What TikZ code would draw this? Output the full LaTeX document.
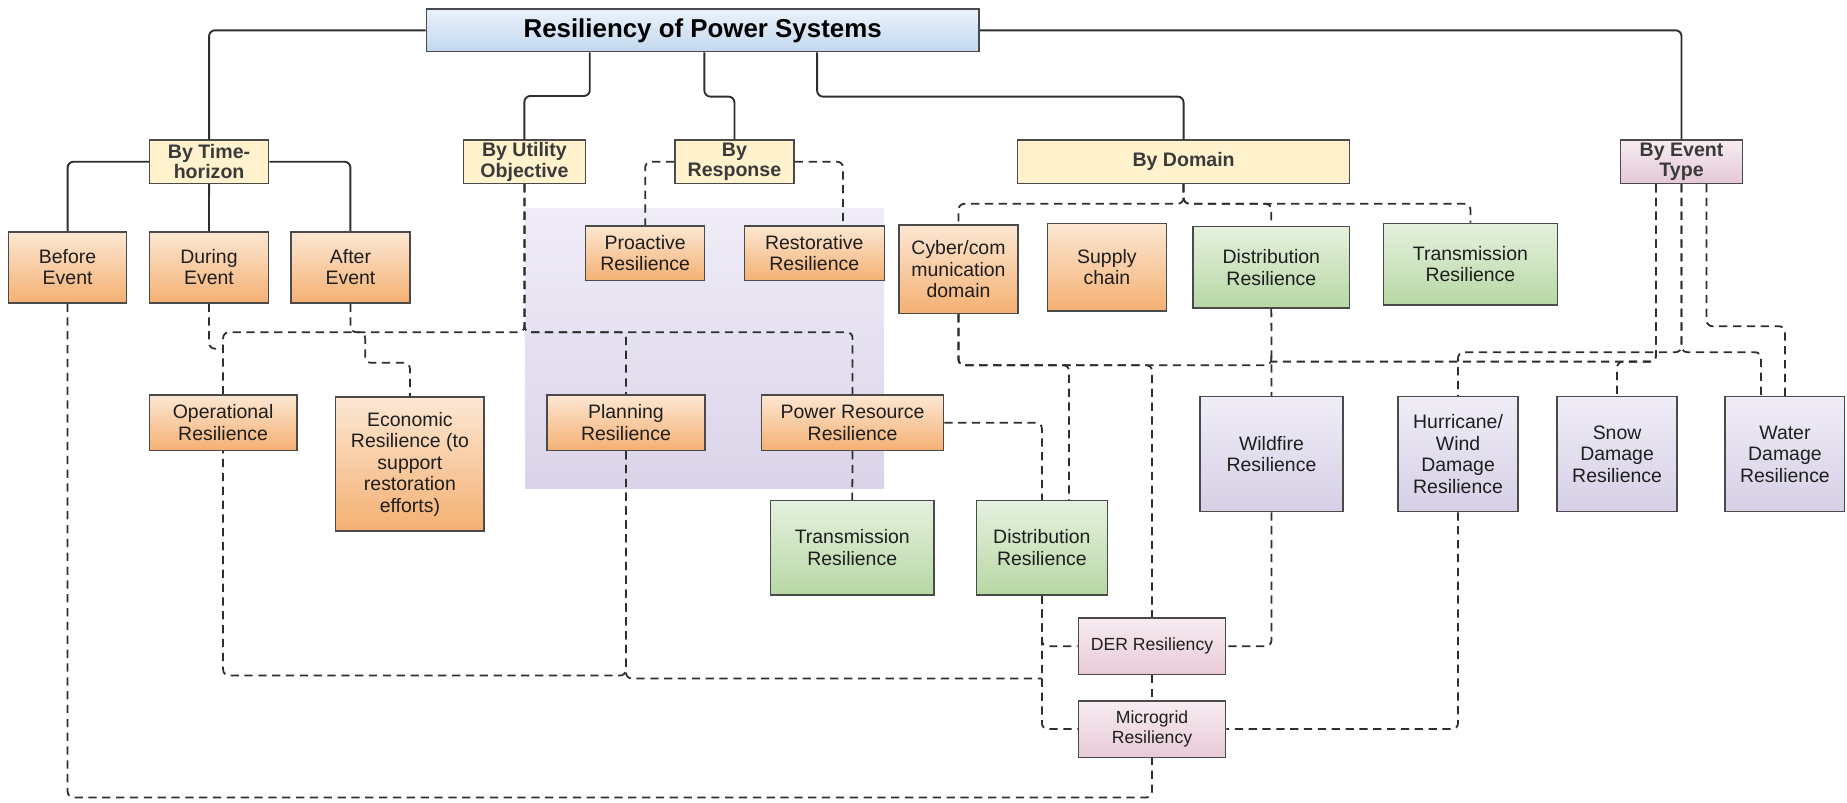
\documentclass[tikz,border=0pt]{standalone}
\usepackage{fontspec}
\setmainfont{Liberation Sans}
\usetikzlibrary{calc}

\definecolor{edgecol}{HTML}{2E2E2E}
\definecolor{boxline}{HTML}{4A4A4A}
\definecolor{txt}{HTML}{1E1E1E}
\definecolor{cattxt}{HTML}{3A3A3A}
\definecolor{rootTop}{HTML}{EAF2FB}
\definecolor{rootBot}{HTML}{C2D8EE}
\definecolor{catYel}{HTML}{FFF2CC}
\definecolor{evTop}{HTML}{F7ECF2}
\definecolor{evBot}{HTML}{E4C8D6}
\definecolor{orTop}{HTML}{FCE7D3}
\definecolor{orBot}{HTML}{F4B072}
\definecolor{grTop}{HTML}{E5F1DE}
\definecolor{grBot}{HTML}{B7D7A4}
\definecolor{puTop}{HTML}{F0EDF7}
\definecolor{puBot}{HTML}{D6CFE5}
\definecolor{pkTop}{HTML}{F8ECF2}
\definecolor{pkBot}{HTML}{E7CAD7}
\definecolor{regTop}{HTML}{EFECF7}
\definecolor{regBot}{HTML}{DBD4E9}

\begin{document}
\begin{tikzpicture}[
  x=0.2mm, y=-0.2mm,
  sz/.style n args={2}{minimum width=#1*0.2mm, minimum height=#2*0.2mm},
  basebox/.style={draw=boxline, line width=0.26mm, inner sep=0pt, align=center,
    text=txt, font=\fontsize{9.4}{10.4}\selectfont},
  rootbox/.style={basebox, top color=rootTop, bottom color=rootBot,
    font=\fontsize{12.5}{14}\selectfont\bfseries, text=black},
  catbox/.style={basebox, fill=catYel, text=cattxt,
    font=\fontsize{9.45}{9.9}\selectfont\bfseries},
  evcat/.style={catbox, fill=none, top color=evTop, bottom color=evBot},
  orbox/.style={basebox, top color=orTop, bottom color=orBot},
  grbox/.style={basebox, top color=grTop, bottom color=grBot},
  pubox/.style={basebox, top color=puTop, bottom color=puBot},
  pkbox/.style={basebox, top color=pkTop, bottom color=pkBot,
    font=\fontsize{8.5}{9.3}\selectfont},
  tree/.style={draw=edgecol, line width=0.32mm, rounded corners=1mm},
  link/.style={draw=edgecol, line width=0.3mm, rounded corners=1mm,
    dash pattern=on 1.4mm off 0.95mm},
]
\useasboundingbox (0,0) rectangle (1568,681);

% shaded band behind the planning group
\shade[top color=regTop, bottom color=regBot] (445.7,177.4) rectangle (750.5,415);

% root and categories
\node[rootbox, sz={469}{36.3}] (root) at (596.5,25.75) {Resiliency of Power Systems};
\node[catbox, sz={101}{36.6}] (tcat) at (177.5,137.3) {By Time-\\horizon};
\node[catbox, sz={103.7}{36.6}] (ucat) at (445.2,137.3) {By Utility\\Objective};
\node[catbox, sz={101}{36.6}] (rcat) at (623.5,137.3) {By\\Response};
\node[catbox, sz={282}{36.6}] (dcat) at (1004.8,137.3) {By Domain};
\node[evcat, sz={103.7}{36.6}] (ecat) at (1427.5,137.3) {By Event\\Type};

% time horizon
\node[orbox, sz={100}{60.3}] (before) at (57.4,226.9) {Before\\Event};
\node[orbox, sz={101.2}{60.3}] (during) at (177.4,226.9) {During\\Event};
\node[orbox, sz={101}{60.3}] (after) at (297.5,226.9) {After\\Event};

% response
\node[orbox, sz={101}{46.5}] (proactive) at (547.7,215) {Proactive\\Resilience};
\node[orbox, sz={118.8}{46.5}] (restorative) at (691.3,215) {Restorative\\Resilience};

% domain
\node[orbox, sz={101}{75}] (cyber) at (813.7,228.5) {Cyber/com\\munication\\domain};
\node[orbox, sz={101}{74.4}] (supply) at (939.7,226.8) {Supply\\chain};
\node[grbox, sz={133}{69.3}] (dtop) at (1079.3,227) {Distribution\\Resilience};
\node[grbox, sz={148}{69.4}] (ttop) at (1248.3,224.3) {Transmission\\Resilience};

% utility objective
\node[orbox, sz={125.2}{47}] (oper) at (189.4,358.8) {Operational\\Resilience};
\node[orbox, sz={126}{113.5}] (econ) at (348,394) {Economic\\Resilience (to\\support\\restoration\\efforts)};
\node[orbox, sz={133.8}{47}] (plan) at (531.4,358.8) {Planning\\Resilience};
\node[orbox, sz={154.4}{47}] (power) at (723.8,358.8) {Power Resource\\Resilience};
\node[grbox, sz={139}{80}] (tlow) at (723.5,465) {Transmission\\Resilience};
\node[grbox, sz={111}{80}] (dlow) at (884.5,465) {Distribution\\Resilience};

% event types
\node[pubox, sz={121.3}{97.7}] (wild) at (1079.4,385.5) {Wildfire\\Resilience};
\node[pubox, sz={101.6}{97.7}] (hurr) at (1237.8,385.5) {Hurricane/\\Wind\\Damage\\Resilience};
\node[pubox, sz={101.6}{97.7}] (snow) at (1372.8,385.5) {Snow\\Damage\\Resilience};
\node[pubox, sz={101.5}{97.7}] (water) at (1515.3,385.5) {Water\\Damage\\Resilience};

% DER and microgrid
\node[pkbox, sz={125}{48}] (der) at (978,548.6) {DER Resiliency};
\node[pkbox, sz={125}{48}] (micro) at (978,618.9) {Microgrid\\Resiliency};

% junction points where a dashed link meets another one
\coordinate (ojoin) at (189.4,296);
\coordinate (mjoin) at (884.5,576);
\coordinate (djoin) at (1079.3,300);
\coordinate (ejoin) at (1079.3,307);

% hierarchy (solid)
\begin{scope}[tree]
\draw (root.west) -| (tcat.north);
\draw (500.7,0 |- root.south) |- (ucat.north |- 0,81.5) -- (ucat.north);
\draw (598,0 |- root.south) |- (rcat.north |- 0,82) -- (rcat.north);
\draw (693.7,0 |- root.south) |- (dcat.north |- 0,82) -- (dcat.north);
\draw (root.east) -| (ecat.north);
\draw (tcat.west) -| (before.north);
\draw (tcat.south) -- (during.north);
\draw (tcat.east) -| (after.north);
\end{scope}

% relations (dashed); links sharing a trunk start from the same end
\begin{scope}[link]
\draw (rcat.west) -| (proactive.north);
\draw (rcat.east) -| (715.7,0 |- restorative.north);
\draw (dcat.south) |- (cyber.north |- 0,173) -- (cyber.north);
\draw (dcat.south) |- (dtop.north |- 0,173) -- (dtop.north);
\draw (dcat.south) |- (ttop.north |- 0,173) -- (ttop.north);
\draw (ucat.south) |- (oper.north |- 0,282) -- (oper.north);
\draw (ucat.south) |- (plan.north |- 0,282) -- (plan.north);
\draw (ucat.south) |- (power.north |- 0,282) -- (power.north);
\draw (during.south) |- (ojoin);
\draw (after.south) |- (310,282) |- (econ.north |- 0,308) -- (econ.north);
\draw (before.south) |- (micro.south |- 0,677) -- (micro.south);
\draw (plan.south) |- (oper.south |- 0,573.5) -- (oper.south);
\draw (plan.south) |- (mjoin);
\draw (dlow.south) |- (der.west);
\draw (dlow.south) |- (micro.west);
\draw (power.east) -| (dlow.north);
\draw (power.south) -- (tlow.north);
\draw (cyber.south) |- (907.6,310) -- (907.6,0 |- dlow.north);
\draw (cyber.south) |- (der.north |- 0,310) -- (der.north);
\draw (cyber.south) |- (djoin |- 0,310) -- (djoin);
\draw (dtop.south) -- (wild.north);
\draw (1405.8,0 |- ecat.south) |- (ejoin);
\draw (1405.8,0 |- ecat.south) |- (snow.north |- 0,307) -- (snow.north);
\draw (ecat.south) |- (hurr.north |- 0,299) -- (hurr.north);
\draw (ecat.south) |- (1495,299) -- (1495,0 |- water.north);
\draw (1448.8,0 |- ecat.south) |- (water.north |- 0,277) -- (water.north);
\draw (wild.south) |- (der.east);
\draw (hurr.south) |- (micro.east);
\draw (der.south) -- (micro.north);
\end{scope}
\end{tikzpicture}
\end{document}
